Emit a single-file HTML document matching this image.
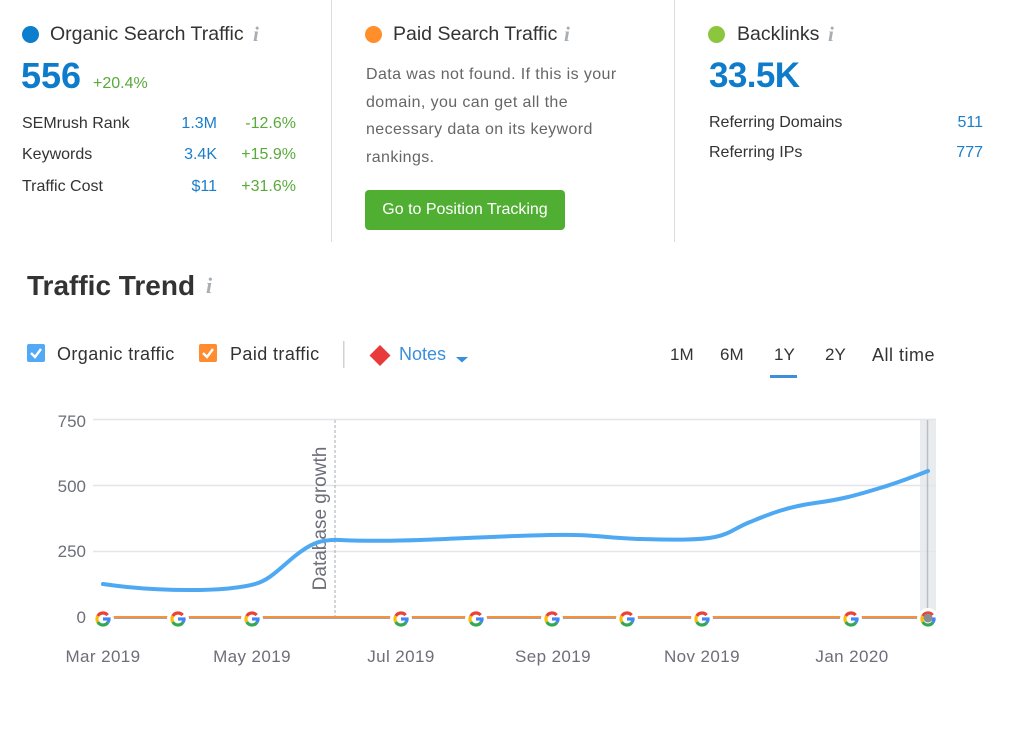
<!DOCTYPE html>
<html><head><meta charset="utf-8">
<style>
html,body{margin:0;padding:0;background:#fff;}
body{width:1010px;height:742px;position:relative;overflow:hidden;font-family:"Liberation Sans",Arial,sans-serif;color:#333;}
.a{position:absolute;white-space:nowrap;}
.dot{position:absolute;width:17px;height:17px;border-radius:50%;}
.ttl{font-size:19.5px;line-height:24px;top:22px;color:#333;}
.info{font-family:"Liberation Serif",serif;font-style:italic;font-weight:bold;font-size:21px;line-height:24px;top:22px;color:#a9aeb4;}
.big{font-weight:bold;font-size:36px;line-height:40px;top:56px;color:#0f7ccb;}
.row{font-size:16px;line-height:20px;}
.val{font-size:16px;line-height:20px;color:#1b7ecb;text-align:right;}
.grn{font-size:16px;line-height:20px;color:#58aa3a;text-align:right;}
.vline{position:absolute;top:0;width:1px;height:242px;background:#dcdcdc;}
.leg{font-size:18px;line-height:22px;top:343px;letter-spacing:0.4px;color:#333;}
.per{font-size:17px;line-height:22px;top:344px;color:#333;}
</style></head><body>

<!-- Organic -->
<div class="dot" style="left:22px;top:26px;background:#0d7dcd;"></div>
<div class="a ttl" style="left:50px;">Organic Search Traffic</div>
<div class="a info" style="left:253px;">i</div>
<div class="a big" style="left:21px;">556</div>
<div class="a" style="left:93px;top:74px;font-size:16px;line-height:20px;color:#58aa3a;">+20.4%</div>
<div class="a row" style="left:22px;top:114px;">SEMrush Rank</div>
<div class="a row" style="left:22px;top:145px;">Keywords</div>
<div class="a row" style="left:22px;top:177px;">Traffic Cost</div>
<div class="a val" style="left:140px;width:77px;top:114px;">1.3M</div>
<div class="a val" style="left:140px;width:77px;top:145px;">3.4K</div>
<div class="a val" style="left:140px;width:77px;top:177px;">$11</div>
<div class="a grn" style="left:220px;width:76px;top:114px;">-12.6%</div>
<div class="a grn" style="left:220px;width:76px;top:145px;">+15.9%</div>
<div class="a grn" style="left:220px;width:76px;top:177px;">+31.6%</div>

<div class="vline" style="left:331px;"></div>
<div class="vline" style="left:674px;"></div>

<!-- Paid -->
<div class="dot" style="left:365px;top:26px;background:#ff8e2b;"></div>
<div class="a ttl" style="left:393px;">Paid Search Traffic</div>
<div class="a info" style="left:564px;">i</div>
<div class="a" style="left:366px;top:61px;font-size:16px;line-height:27.7px;color:#666;letter-spacing:0.4px;">Data was not found. If this is your<br>domain, you can get all the<br>necessary data on its keyword<br>rankings.</div>
<div class="a" style="left:365px;top:190px;width:200px;height:40px;border-radius:4px;background:#50ae33;color:#fff;font-size:16px;line-height:40px;text-align:center;">Go to Position Tracking</div>

<!-- Backlinks -->
<div class="dot" style="left:708px;top:26px;background:#8cc63e;"></div>
<div class="a ttl" style="left:737px;">Backlinks</div>
<div class="a info" style="left:828px;">i</div>
<div class="a big" style="left:709px;font-size:35px;letter-spacing:-0.6px;">33.5K</div>
<div class="a row" style="left:709px;top:113px;">Referring Domains</div>
<div class="a row" style="left:709px;top:143px;">Referring IPs</div>
<div class="a val" style="left:900px;width:83px;top:113px;">511</div>
<div class="a val" style="left:900px;width:83px;top:143px;">777</div>

<!-- Traffic Trend -->
<div class="a" style="left:27px;top:268px;font-size:28px;line-height:36px;font-weight:bold;color:#333;">Traffic Trend</div>
<div class="a info" style="left:206px;top:274px;font-size:22px;">i</div>

<div class="a leg" style="left:57px;">Organic traffic</div>
<div class="a leg" style="left:230px;">Paid traffic</div>
<div class="a leg" style="left:399px;color:#3a8edb;letter-spacing:0;">Notes</div>

<div class="a per" style="left:670px;">1M</div>
<div class="a per" style="left:720px;">6M</div>
<div class="a per" style="left:774px;">1Y</div>
<div class="a per" style="left:825px;">2Y</div>
<div class="a per" style="left:872px;font-size:18px;letter-spacing:0.5px;">All time</div>
<div class="a" style="left:770px;top:375px;width:27px;height:3px;background:#3d8edb;"></div>

<svg class="a" style="left:0;top:0;" width="1010" height="742" viewBox="0 0 1010 742" xmlns="http://www.w3.org/2000/svg">
  <defs>
    <g id="gg">
      <circle r="11" fill="#fff"/>
      <g fill="none" stroke-width="3.2">
        <path d="M4.6,-3.86 A6,6 0 0 0 -5.2,-3" stroke="#ea4335"/>
        <path d="M-5.2,-3 A6,6 0 0 0 -5.2,3" stroke="#fbbc05"/>
        <path d="M-5.2,3 A6,6 0 0 0 4.9,3.44" stroke="#34a853"/>
        <path d="M4.9,3.44 A6,6 0 0 0 6,0" stroke="#4285f4"/>
        <path d="M0,0 H7.6" stroke="#4285f4"/>
      </g>
    </g>
  </defs>
  <!-- legend checkboxes -->
  <rect x="27" y="344" width="18" height="18" rx="2" fill="#52a9f5"/>
  <path d="M31,353 L35,357 L41,349" fill="none" stroke="#fff" stroke-width="2.4"/>
  <rect x="199" y="344" width="18" height="18" rx="2" fill="#ff8c2f"/>
  <path d="M203,353 L207,357 L213,349" fill="none" stroke="#fff" stroke-width="2.4"/>
  <rect x="343" y="341" width="1.5" height="27" fill="#cfd2d6"/>
  <polygon points="380,345 390.5,355.5 380,366 369.5,355.5" fill="#e8393b"/>
  <polygon points="456,357 468,357 462,362.5" fill="#3a8edb"/>

  <!-- chart -->
  <rect x="920" y="420" width="16" height="199" fill="#e9ecef"/>
  <g stroke="#e3e6e9" stroke-width="1.5">
    <line x1="93" y1="419.5" x2="936" y2="419.5"/>
    <line x1="93" y1="485.5" x2="936" y2="485.5"/>
    <line x1="93" y1="551.5" x2="936" y2="551.5"/>
  </g>
  <line x1="927.5" y1="420" x2="927.5" y2="617" stroke="#b9bdc2" stroke-width="1.5"/>
  <line x1="335" y1="420" x2="335" y2="617" stroke="#a8abb0" stroke-width="1" stroke-dasharray="3,2"/>
  <text transform="translate(326,518.5) rotate(-90)" text-anchor="middle" font-family="Liberation Sans, Arial, sans-serif" font-size="19" fill="#6c6e79">Database growth</text>

  <g font-family="Liberation Sans, Arial, sans-serif" font-size="17" fill="#6c6e79" text-anchor="end">
    <text x="86" y="427">750</text>
    <text x="86" y="492">500</text>
    <text x="86" y="557">250</text>
    <text x="86" y="623">0</text>
  </g>
  <g font-family="Liberation Sans, Arial, sans-serif" font-size="17" fill="#6c6e79" text-anchor="middle" letter-spacing="0.4">
    <text x="103" y="662">Mar 2019</text>
    <text x="252" y="662">May 2019</text>
    <text x="401" y="662">Jul 2019</text>
    <text x="553" y="662">Sep 2019</text>
    <text x="702" y="662">Nov 2019</text>
    <text x="852" y="662">Jan 2020</text>
  </g>

  <line x1="93" y1="618.5" x2="930" y2="618.5" stroke="#a0a4a8" stroke-width="1"/>
  <line x1="103" y1="617" x2="928" y2="617" stroke="#f7913d" stroke-width="2"/>

  <path d="M103,584 C130,588 160,590 190,590 S240,588 255,584 S280,568 295,556 S320,539 340,540 S390,541 420,540 S500,536 550,535 S600,538 640,539 S700,540 715,537 S735,528 750,522 S785,507 815,503 S860,494 880,488 S915,476 928,471" fill="none" stroke="#4ea9f2" stroke-width="4" stroke-linecap="round"/>

  <use href="#gg" x="103" y="619"/>
  <use href="#gg" x="178" y="619"/>
  <use href="#gg" x="252" y="619"/>
  <use href="#gg" x="401" y="619"/>
  <use href="#gg" x="476" y="619"/>
  <use href="#gg" x="552" y="619"/>
  <use href="#gg" x="627" y="619"/>
  <use href="#gg" x="702" y="619"/>
  <use href="#gg" x="851" y="619"/>
  <use href="#gg" x="928" y="619"/>
  <circle cx="928" cy="618" r="4.5" fill="#8a8d91"/>
</svg>
</body></html>
